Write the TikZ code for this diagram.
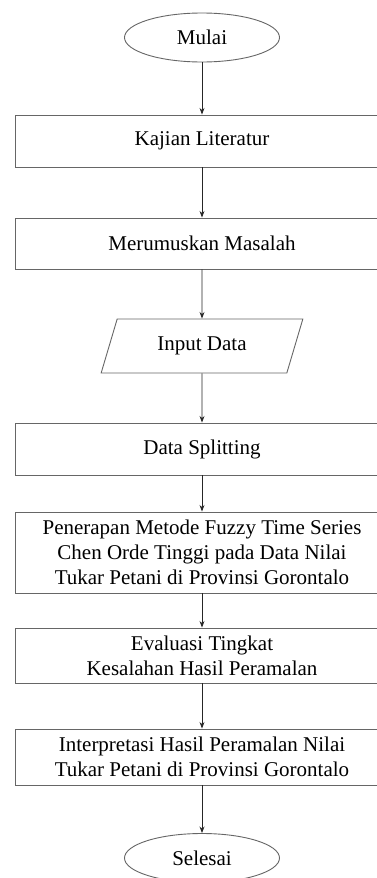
\documentclass[tikz,border=0pt]{standalone}
\usepackage{fontspec}
\setmainfont{Liberation Serif}
\usetikzlibrary{arrows.meta,shapes.geometric}
\tikzset{
  >=Stealth,
  line/.style={line width=.9pt,draw=black!60},
  % terminator
  term/.style={ellipse,line,fill=white,minimum width=155pt,minimum height=49pt},
  % proses
  proc/.style={rectangle,line,fill=white,minimum width=374pt,align=center,inner sep=2pt},
  % input/output
  io/.style={trapezium,trapezium left angle=70,trapezium right angle=110,
    trapezium stretches=true,line,fill=white,minimum width=202pt,minimum height=54pt},
  arr/.style={->,line width=.8pt,draw=black!85}
}

\begin{document}
\begin{tikzpicture}[x=1pt,y=1pt,font=\fontsize{21}{25}\selectfont]
  \useasboundingbox (0,0) rectangle (376,-878);

  %--- simpul
  \node[term] (mulai) at (202,-37.5) {Mulai};
  \node[proc,minimum height=52pt] (kajian) at (202,-141) {Kajian Literatur};
  \node[proc,minimum height=51pt] (rumus)  at (202,-243.5) {Merumuskan Masalah};
  \node[io] (input) at (202,-346) {Input Data};
  \node[proc,minimum height=52pt] (split)  at (202,-449) {Data Splitting};
  \node[proc,minimum height=81pt] (terap)  at (202,-552.5)
    {Penerapan Metode Fuzzy Time Series\\Chen Orde Tinggi pada Data Nilai\\Tukar Petani di Provinsi Gorontalo};
  \node[proc,minimum height=55pt] (eval)   at (202,-655.5)
    {Evaluasi Tingkat\\Kesalahan Hasil Peramalan};
  \node[proc,minimum height=56pt] (interp) at (202,-757)
    {Interpretasi Hasil Peramalan Nilai\\Tukar Petani di Provinsi Gorontalo};
  \node[term] (selesai) at (202,-858) {Selesai};

  %--- panah
  \foreach \a/\b in {mulai/kajian,kajian/rumus,rumus/input,input/split,
                     split/terap,terap/eval,eval/interp,interp/selesai}{
    \draw[arr] (\a) -- (\b);
  }
\end{tikzpicture}
\end{document}
